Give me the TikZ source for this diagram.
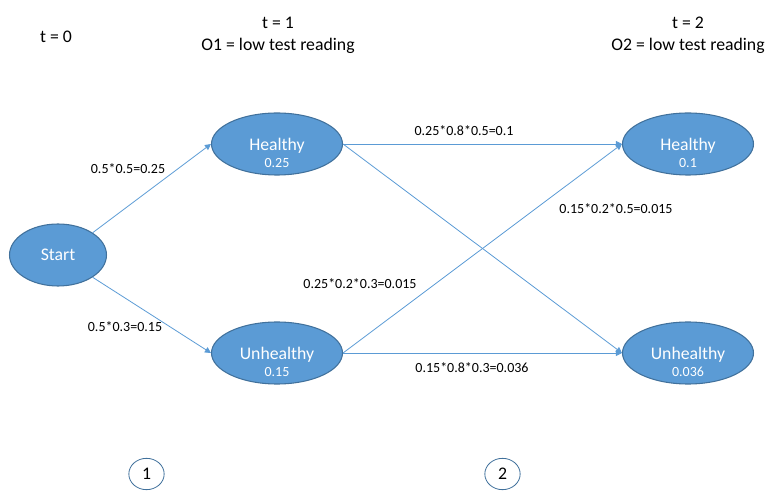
\documentclass[tikz,border=0pt]{standalone}
\usepackage{fontspec}
\setmainfont{Carlito}
\usetikzlibrary{shapes.geometric,arrows.meta}
\definecolor{statefill}{HTML}{5B9BD5}
\definecolor{stateline}{HTML}{41719C}
\definecolor{edgeblue}{HTML}{5B9BD5}

\tikzset{
  big/.style={font=\fontsize{13.3}{16}\selectfont},
  small/.style={font=\fontsize{10.5}{12}\selectfont},
  state/.style={ellipse,draw=stateline,line width=0.8pt,fill=statefill,text=white,big,
    minimum width=98.25pt,minimum height=46.5pt,inner sep=0pt,text depth=0pt},
  value/.style={small,text=white,yshift=-14pt},
  stepnum/.style={ellipse,draw=stateline,line width=0.6pt,big,
    minimum width=26.5pt,minimum height=23.5pt,inner sep=0pt},
  trans/.style={draw=edgeblue,line width=0.6pt,-{Triangle[width=4.5pt,length=4.5pt]}},
  prob/.style={small,text=black}
}

\begin{document}
\begin{tikzpicture}[x=0.75pt,y=-0.75pt]
  \useasboundingbox (0,0) rectangle (782,502);

  % time headers
  \node[big] (t0) at (56,37) {t = 0};
  \foreach \n/\x in {1/278,2/688} {
    \node[big] (t\n) at (\x,23) {t = \n};
    \node[big] (o\n) at (\x,46) {O\n\ = low test reading};
  }

  % states
  \node[state,minimum width=72.75pt] (start) at (58,255) {Start};
  \node[state,label={[value]center:0.25}] (h1) at (277,144) {Healthy};
  \node[state,label={[value]center:0.15}] (u1) at (277,353) {Unhealthy};
  \node[state,label={[value]center:0.1}] (h2) at (688,144) {Healthy};
  \node[state,label={[value]center:0.036}] (u2) at (688,353) {Unhealthy};

  % transitions
  \draw[trans] (start.north east) -- (h1.west);
  \draw[trans] (start.south east) -- (u1.west);
  \draw[trans] (h1.east) -- (h2.west);
  \draw[trans] (h1.east) -- (u2.west);
  \draw[trans] (u1.east) -- (h2.west);
  \draw[trans] (u1.east) -- (u2.west);

  \node[prob] (p1) at (128,169) {0.5*0.5=0.25};
  \node[prob] (p2) at (125,327) {0.5*0.3=0.15};
  \node[prob] (p3) at (464,131) {0.25*0.8*0.5=0.1};
  \node[prob] (p4) at (616,209) {0.15*0.2*0.5=0.015};
  \node[prob] (p5) at (360,284) {0.25*0.2*0.3=0.015};
  \node[prob] (p6) at (472,368) {0.15*0.8*0.3=0.036};

  % step markers
  \node[stepnum] (s1) at (146.5,474) {1};
  \node[stepnum] (s2) at (502.5,474) {2};
\end{tikzpicture}
\end{document}
